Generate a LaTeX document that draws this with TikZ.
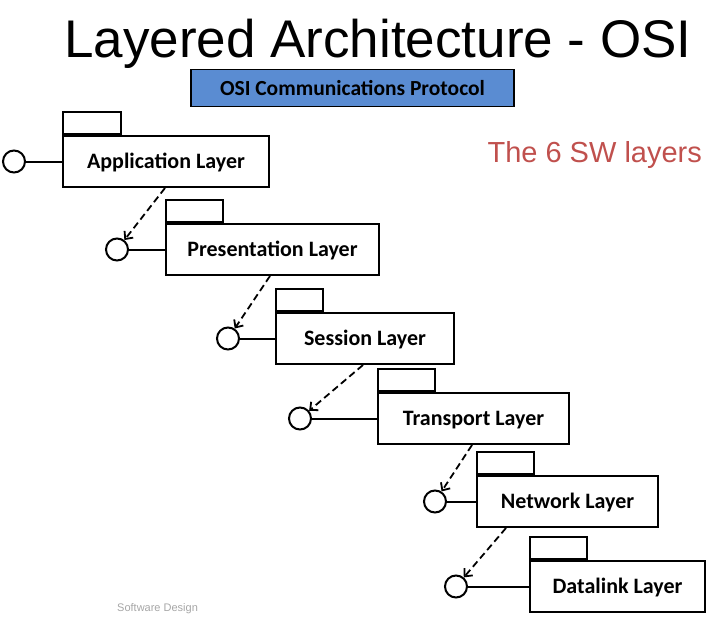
\documentclass[tikz,border=0pt]{standalone}
\usepackage{fontspec}
\setmainfont{Liberation Sans}
\newfontfamily\carlito{Carlito}
\usetikzlibrary{arrows.meta,calc}
\definecolor{osiblue}{RGB}{90,140,210}
\definecolor{swred}{RGB}{192,80,77}
\begin{document}
\begin{tikzpicture}[x=1pt,y=-1pt,
  layer/.style={draw, line width=2pt, minimum height=51, anchor=north west, inner sep=0,
    font=\carlito\bfseries\fontsize{22}{22}\selectfont},
  tab/.style={draw, line width=2pt, minimum height=22, anchor=south west, inner sep=0},
  iface/.style={circle, draw, line width=2pt, minimum size=22, inner sep=0},
  link/.style={line width=2pt},
  dep/.style={line width=1.8pt, dash pattern=on 7pt off 4pt, -{Straight Barb[length=6pt,width=11pt]}}]
\useasboundingbox (0,0) rectangle (706,616);
\node[anchor=base, font=\fontsize{53}{53}\selectfont] (title) at (378,57) {Layered Architecture - OSI};
\node[draw, line width=1.6pt, fill=osiblue, minimum width=323, minimum height=37, inner sep=0,
  font=\carlito\bfseries\fontsize{21.5}{21.5}\selectfont] (osi) at (352.5,88) {OSI Communications Protocol};
\node[anchor=base west, text=swred, font=\fontsize{29}{29}\selectfont] (sw) at (484,162) {The 6 SW layers};
% layers
\node[layer, minimum width=206, text depth=0pt, text height=13pt] (A) at (62,135) {Application Layer};
\node[layer, minimum width=213, text depth=0pt, text height=13pt] (P) at (165,223) {Presentation Layer};
\node[layer, minimum width=178, text depth=0pt, text height=13pt] (S) at (275,312) {Session Layer};
\node[layer, minimum width=191, text depth=0pt, text height=13pt] (T) at (377,392) {Transport Layer};
\node[layer, minimum width=181, text depth=0pt, text height=13pt] (N) at (476,475) {Network Layer};
\node[layer, minimum width=175, text depth=0pt, text height=13pt] (D) at (529,560) {Datalink Layer};
% tabs
\node[tab, minimum width=58] (At) at (A.north west) {};
\node[tab, minimum width=57] (Pt) at (P.north west) {};
\node[tab, minimum width=47] (St) at (S.north west) {};
\node[tab, minimum width=57] (Tt) at (T.north west) {};
\node[tab, minimum width=57] (Nt) at (N.north west) {};
\node[tab, minimum width=57] (Dt) at (D.north west) {};
% interfaces
\node[iface] (Ac) at ($(A.west)+(-48,0)$) {};
\node[iface] (Pc) at ($(P.west)+(-48,0)$) {};
\node[iface] (Sc) at ($(S.west)+(-47,0)$) {};
\node[iface] (Tc) at ($(T.west)+(-77,0)$) {};
\node[iface] (Nc) at ($(N.west)+(-41,0)$) {};
\node[iface] (Dc) at ($(D.west)+(-73,0)$) {};
\draw[link] (Ac) -- (A);
\draw[link] (Pc) -- (P);
\draw[link] (Sc) -- (S);
\draw[link] (Tc) -- (T);
\draw[link] (Nc) -- (N);
\draw[link] (Dc) -- (D);
% dependencies
\coordinate (a1) at ($(A.south west)+(103,0)$);
\coordinate (p1) at ($(P.south west)+(105,0)$);
\coordinate (s1) at ($(S.south west)+(88,0)$);
\coordinate (t1) at ($(T.south west)+(95,0)$);
\coordinate (n1) at ($(N.south west)+(30,0)$);
\draw[dep] (a1) -- (Pc);
\draw[dep] (p1) -- (Sc);
\draw[dep] (s1) -- (Tc);
\draw[dep] (t1) -- (Nc);
\draw[dep] (n1) -- (Dc);
\node[anchor=south west, inner sep=0, text=black!35, font=\fontsize{11}{11}\selectfont] (foot) at (117,614) {Software Design};
\end{tikzpicture}
\end{document}
